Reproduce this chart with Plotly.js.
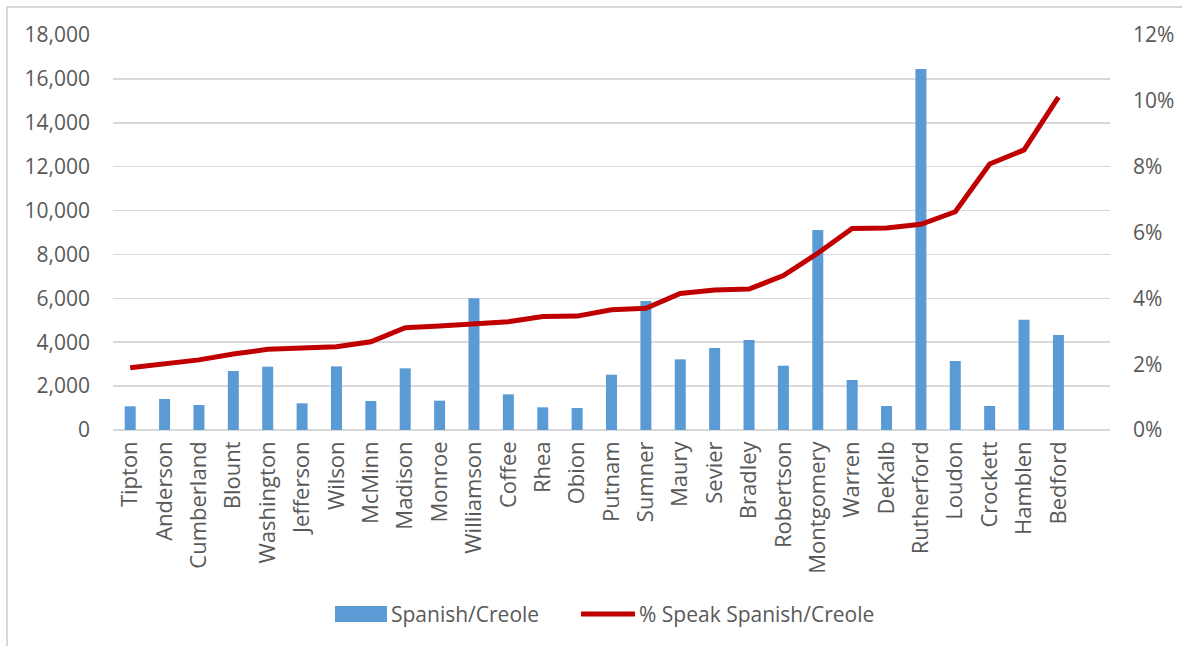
<!DOCTYPE html>
<html>
<head>
<meta charset="utf-8">
<script src="https://cdn.plot.ly/plotly-3.0.1.min.js"></script>
<style>
  html, body { margin: 0; padding: 0; width: 1182px; height: 646px; overflow: hidden; background: #fff; }
  #frame { position: absolute; left: 6px; top: 6px; width: 1200px; height: 700px; border: 2px solid #d9d9d9; box-sizing: border-box; }
  #chart { position: absolute; left: 0; top: 0; width: 1182px; height: 646px; }
</style>
</head>
<body>
<div id="frame"></div>
<div id="chart"></div>
<script>
const counties = ["Tipton","Anderson","Cumberland","Blount","Washington","Jefferson","Wilson","McMinn","Madison","Monroe","Williamson","Coffee","Rhea","Obion","Putnam","Sumner","Maury","Sevier","Bradley","Robertson","Montgomery","Warren","DeKalb","Rutherford","Loudon","Crockett","Hamblen","Bedford"];
const spanishCreole = [1080,1413,1139,2689,2886,1215,2901,1322,2810,1337,6000,1625,1033,1003,2521,5879,3220,3737,4101,2931,9114,2279,1094,16451,3144,1094,5027,4329];
const pctSpanish = [0.0189,0.0200,0.0213,0.0231,0.0245,0.0249,0.0253,0.0268,0.0311,0.0316,0.0322,0.0329,0.0345,0.0346,0.0365,0.0370,0.0415,0.0425,0.0428,0.0469,0.0537,0.0612,0.0614,0.0625,0.0663,0.0808,0.0851,0.1011];
const barName = "Spanish/Creole";
const lineName = "% Speak Spanish/Creole";
const barColor = "#5B9BD5";
const lineColor = "#C00000";

const W = 1182, H = 646, L = 113, R = 72, T = 35, B = 216;
const pw = W - L - R, ph = H - T - B;
const px = v => (v - L) / pw;          // pixel x -> paper x
const py = v => (H - B - v) / ph;      // pixel y -> paper y

const tickFontY = {family: "Open Sans, Noto Sans, sans-serif", size: 21, color: "#595959"};
const tickFontX = {family: "Open Sans, Noto Sans, sans-serif", size: 22, color: "#595959"};
const legFont = {family: "Open Sans, Noto Sans, sans-serif", size: 21, color: "#595959"};

const traces = [
  {type: "bar", x: counties, y: spanishCreole, name: barName,
   marker: {color: barColor}, width: 0.32},
  {type: "scatter", mode: "lines", x: counties, y: pctSpanish, name: lineName, yaxis: "y2",
   line: {color: lineColor, width: 5}}
];

const layout = {
  width: W, height: H,
  margin: {l: L, r: R, t: T, b: B},
  paper_bgcolor: "rgba(0,0,0,0)", plot_bgcolor: "rgba(0,0,0,0)",
  font: tickFontY,
  showlegend: false,
  xaxis: {type: "category", range: [-0.5, counties.length + 0.5], tickangle: -90, showgrid: false,
          zeroline: false, showline: false, ticks: "", tickfont: tickFontX, ticklabelstandoff: 6},
  yaxis: {range: [0, 18000], dtick: 2000, tickformat: ",d", showgrid: true, gridcolor: "#d9d9d9", gridwidth: 1.5,
          zeroline: true, zerolinecolor: "#d9d9d9", zerolinewidth: 1.5, showline: false, ticks: "",
          tickfont: tickFontY, ticklabelstandoff: 22},
  yaxis2: {range: [0, 0.12], dtick: 0.02, tickformat: ".0%", overlaying: "y", side: "right", showgrid: false,
           zeroline: false, showline: false, ticks: "", tickfont: tickFontY, ticklabelstandoff: 22},
  shapes: [
    {type: "rect", xref: "paper", yref: "paper", x0: px(335), x1: px(387), y0: py(622), y1: py(606),
     fillcolor: barColor, line: {width: 0}},
    {type: "line", xref: "paper", yref: "paper", x0: px(581), x1: px(635), y0: py(614), y1: py(614),
     line: {color: lineColor, width: 5}}
  ],
  annotations: [
    {xref: "paper", yref: "paper", x: px(389), y: py(614), xanchor: "left", yanchor: "middle",
     text: barName, showarrow: false, font: legFont},
    {xref: "paper", yref: "paper", x: px(637), y: py(614), xanchor: "left", yanchor: "middle",
     text: lineName, showarrow: false, font: legFont}
  ]
};

Plotly.newPlot("chart", traces, layout, {displayModeBar: false, staticPlot: true});
</script>
</body>
</html>
